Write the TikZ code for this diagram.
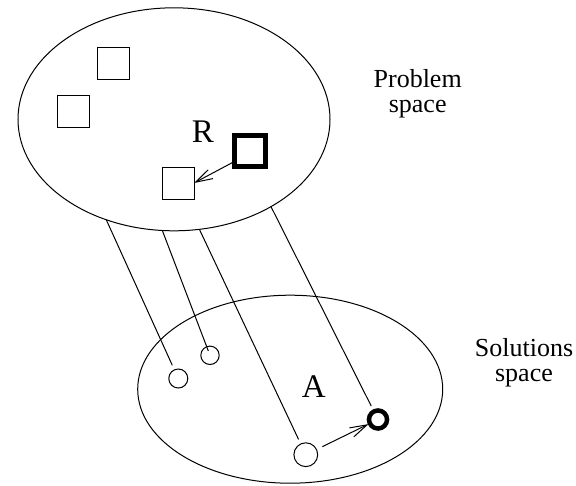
\documentclass[tikz,border=0pt]{standalone}
\usepackage{fontspec}
\setmainfont{Liberation Serif}
\usetikzlibrary{shapes.geometric,arrows.meta}

\tikzset{
  thin line/.style={line width=1pt},
  space/.style={ellipse, draw, thin line, inner sep=0pt, outer sep=0pt},
  elem/.style={rectangle, draw, thin line, minimum size=32pt, inner sep=0pt, outer sep=0pt},
  elemsel/.style={elem, line width=5pt, minimum size=31pt},
  sol/.style={circle, draw, thin line, inner sep=0pt, outer sep=0pt},
  solsel/.style={sol, line width=4.5pt},
  biglabel/.style={anchor=base, inner sep=0pt, font=\fontsize{33}{33}\selectfont},
  spacelabel/.style={anchor=base, inner sep=0pt, align=center, font=\fontsize{26}{25}\selectfont},
  link/.style={thin line},
  move/.style={thin line, -{Straight Barb[length=17pt,width=10pt]}},
}

\begin{document}
\begin{tikzpicture}[x=1pt,y=-1pt]
  \useasboundingbox (0,0) rectangle (576,485);

  % the two spaces
  \node[space, minimum width=312pt, minimum height=223pt] (prob) at (174,119.3) {};
  \node[space, minimum width=305pt, minimum height=188pt] (sols) at (290.2,389.2) {};

  % problems
  \node[elem] (p1) at (113.8,63.3) {};
  \node[elem] (p2) at (73.8,111.5) {};
  \node[elem] (p3) at (178,183) {};
  \node[elemsel] (pr) at (250,151) {};

  % solutions
  \node[sol, minimum size=19pt] (s1) at (178.3,378.5) {};
  \node[sol, minimum size=18.4pt] (s2) at (210,355.3) {};
  \node[sol, minimum size=23.8pt] (s3) at (305.8,454.7) {};
  \node[solsel, minimum size=18.1pt] (sa) at (378,419.5) {};

  % labels
  \node[biglabel] (lr) at (203,142.3) {R};
  \node[biglabel] (la) at (313.8,397.7) {A};
  \node[spacelabel] (lp) at (417.7,112.3) {Problem\\space};
  \node[spacelabel] (ls) at (524,381.7) {Solutions\\space};

  % mapping from problems to solutions
  \draw[link, shorten >=5pt] (prob.236.8) -- (s1);
  \draw[link, shorten >=4.7pt] (prob.264) -- (s2.center);
  \draw[link, shorten >=5pt] (prob.283.8) -- (s3);
  \draw[link, shorten >=6pt] (prob.318.3) -- (sa);

  % transformations
  \draw[move, shorten <=1.5pt] (pr.214) -- (p3.east);
  \draw[move, shorten <=6.5pt, shorten >=1.5pt] (s3) -- (sa);
\end{tikzpicture}
\end{document}
